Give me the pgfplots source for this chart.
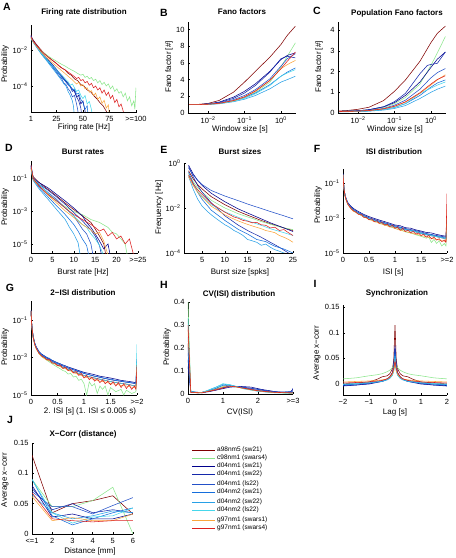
\documentclass[border=0pt]{standalone}
\usepackage{pgfplots}
\pgfplotsset{compat=1.18}
\usepackage{fontspec}
\setmainfont{Liberation Sans}
\definecolor{c1}{RGB}{128,0,0}
\definecolor{c2}{RGB}{140,230,140}
\definecolor{c3}{RGB}{0,0,140}
\definecolor{c4}{RGB}{20,40,170}
\definecolor{c5}{RGB}{35,80,200}
\definecolor{c6}{RGB}{20,110,220}
\definecolor{c7}{RGB}{40,160,230}
\definecolor{c8}{RGB}{70,215,235}
\definecolor{c9}{RGB}{250,165,60}
\definecolor{c10}{RGB}{220,30,30}
\pgfplotsset{
  base/.style={scale only axis, anchor=south west,
    axis x line*=bottom, axis y line*=left, tick align=inside,
    major tick length=2pt,
    every tick/.append style={black, line width=0.4pt},
    axis line style={line width=0.4pt,-},
    every outer x axis line/.append style={-},
    every outer y axis line/.append style={-},
    ticklabel style={font=\fontsize{7.5}{8}\selectfont},
    xticklabel style={yshift=-1pt},
    no markers, xminorticks=false, yminorticks=false,
    every axis plot/.append style={line width=0.55pt}},
}
\newcommand{\Ttl}[3]{\node[font=\bfseries\fontsize{8}{9}\selectfont] at (#1pt,558pt-#2pt) {#3};}
\newcommand{\Let}[3]{\node[font=\bfseries\fontsize{10.5}{11}\selectfont] at (#1pt,558pt-#2pt) {#3};}
\newcommand{\Xl}[3]{\node[font=\fontsize{8}{9}\selectfont] at (#1pt,558pt-#2pt) {#3};}
\newcommand{\Yl}[3]{\node[font=\fontsize{8}{9}\selectfont,rotate=90] at (#1pt,558pt-#2pt) {#3};}
\newcommand{\Lg}[2]{\node[font=\fontsize{6.5}{7}\selectfont,anchor=west,inner sep=0pt] at (217pt,558pt-#1pt) {#2};}
\begin{document}
\begin{tikzpicture}
\path[use as bounding box] (0pt,0pt) rectangle (456pt,558pt);
% ---------------- A
\begin{axis}[base, at={(31pt,446pt)}, width=106pt, height=87pt, ymode=log,
  xmin=1, xmax=101, ymin=3.6e-6, ymax=0.245,
  xtick={1,25,50,75,100}, xticklabels={1,25,50,75,>=100},
  ytick={1e-4,1e-2}, yticklabels={10\textsuperscript{−4},10\textsuperscript{−2}}]
\addplot[c1] coordinates {(1,0.07)(2,0.045)(4,0.03)(6,0.021)(8,0.015)(10,0.011)(12,0.008)(15,0.0055)(18,0.0038)(21,0.0027)(24,0.002)(27,0.0014)(30,0.001)(33,0.0008)(36,0.0005)(39,0.0004)(42,0.00025)(45,0.0002)(48,0.00012)(51,0.0001)(54,6e-5)(57,5e-5)(60,3e-5)(63,2e-5)(66,1.2e-5)(69,8e-6)(72,4e-6)(74,2e-6)};
\addplot[c2] coordinates {(1,0.06)(2,0.04)(4,0.026)(6,0.018)(8,0.013)(10,0.01)(12,0.0078)(15,0.0058)(18,0.0043)(21,0.0033)(24,0.0026)(27,0.002)(30,0.0016)(33,0.0013)(36,0.001)(39,0.0008)(42,0.00065)(45,0.0005)(48,0.0004)(50,0.00045)(52,0.0003)(54,0.00035)(56,0.00025)(58,0.0003)(60,0.0002)(62,0.00024)(64,0.00015)(66,0.0002)(68,0.00012)(70,0.00016)(72,0.0001)(74,0.00013)(76,7e-5)(78,0.0001)(80,5e-5)(82,7e-5)(84,4e-5)(86,5e-5)(88,2.5e-5)(90,4e-5)(92,1.5e-5)(94,2.5e-5)(96,8e-6)(98,1.5e-5)(99,5e-6)(100,8e-5)};
\addplot[c3] coordinates {(1,0.065)(2,0.042)(4,0.028)(6,0.019)(8,0.013)(10,0.009)(12,0.0065)(15,0.0042)(18,0.0026)(21,0.0016)(24,0.001)(27,0.0006)(30,0.00038)(33,0.00022)(36,0.00014)(39,8e-5)(42,5e-5)(44,2.5e-5)(46,3e-5)(48,1e-5)(50,1.5e-5)(52,4e-6)(53,2e-6)};
\addplot[c4] coordinates {(1,0.06)(2,0.04)(4,0.027)(6,0.018)(8,0.012)(10,0.0085)(12,0.006)(15,0.0038)(18,0.0023)(21,0.0014)(24,0.0009)(27,0.00055)(30,0.00033)(33,0.0002)(36,0.00012)(38,9e-5)(40,5e-5)(42,6e-5)(44,2.5e-5)(46,1.5e-5)(48,6e-6)(49,2e-6)};
\addplot[c5] coordinates {(1,0.055)(2,0.038)(4,0.025)(6,0.017)(8,0.011)(10,0.0078)(12,0.0055)(15,0.0034)(18,0.002)(21,0.0012)(24,0.0007)(27,0.0004)(30,0.00025)(32,0.00015)(34,0.00012)(36,7e-5)(38,5e-5)(40,2.5e-5)(42,3e-5)(44,1e-5)(45,5e-6)(46,2e-6)};
\addplot[c6] coordinates {(1,0.05)(2,0.036)(4,0.024)(6,0.016)(8,0.011)(10,0.0075)(12,0.0052)(15,0.0033)(18,0.002)(21,0.0013)(24,0.0008)(27,0.0005)(30,0.0003)(33,0.0002)(36,0.00012)(38,0.0001)(40,6e-5)(42,7e-5)(44,3.5e-5)(46,4e-5)(48,1.8e-5)(50,1.2e-5)(52,5e-6)(54,8e-6)(55,2e-6)};
\addplot[c7] coordinates {(1,0.045)(2,0.033)(4,0.022)(6,0.015)(8,0.01)(10,0.0068)(12,0.0047)(15,0.0029)(18,0.0017)(21,0.001)(24,0.0006)(27,0.00035)(30,0.0002)(32,0.00013)(34,0.0001)(36,5e-5)(38,3e-5)(40,1.5e-5)(41,8e-6)(42,2e-6)};
\addplot[c8] coordinates {(1,0.05)(2,0.035)(4,0.023)(6,0.016)(8,0.011)(10,0.0076)(12,0.0054)(15,0.0035)(18,0.0022)(21,0.0014)(24,0.0009)(27,0.0006)(30,0.0004)(33,0.00026)(36,0.00017)(38,0.00011)(40,0.00013)(42,8e-5)(44,5e-5)(46,6e-5)(48,3e-5)(50,2e-5)(52,3e-5)(54,1e-5)(56,1.4e-5)(58,5e-6)(59,2e-6)};
\addplot[c9] coordinates {(1,0.05)(2,0.036)(4,0.024)(6,0.017)(8,0.012)(10,0.0085)(12,0.0062)(15,0.0042)(18,0.0029)(21,0.002)(24,0.0014)(27,0.001)(30,0.0007)(33,0.0005)(36,0.00035)(39,0.00025)(42,0.00017)(44,0.00013)(46,0.00016)(48,0.0001)(50,0.00012)(52,7e-5)(54,8e-5)(56,4.5e-5)(58,5.5e-5)(60,3e-5)(62,4e-5)(64,1.8e-5)(66,2.5e-5)(68,1.1e-5)(70,1.6e-5)(72,6e-6)(74,9e-6)(75,2e-6)};
\addplot[c10] coordinates {(1,0.055)(2,0.04)(4,0.027)(6,0.019)(8,0.014)(10,0.01)(12,0.0075)(15,0.0052)(18,0.0037)(21,0.0027)(24,0.002)(27,0.0014)(30,0.001)(33,0.0008)(36,0.0006)(39,0.00045)(42,0.00033)(44,0.00026)(46,0.0003)(48,0.0002)(50,0.00023)(52,0.00015)(54,0.00018)(56,0.00011)(58,0.00014)(60,8e-5)(62,0.0001)(64,6e-5)(66,8e-5)(68,4e-5)(70,6e-5)(72,3e-5)(74,4.5e-5)(76,2e-5)(78,3e-5)(80,1.2e-5)(82,1.8e-5)(84,7e-6)(86,1e-5)(88,4e-6)(89,2e-6)};
\end{axis}
% ---------------- B
\begin{axis}[base, at={(188pt,445pt)}, width=108pt, height=91pt, xmode=log,
  xmin=0.0028, xmax=2.6, ymin=0, ymax=10.9,
  xticklabel style={yshift=1pt},
  xtick={0.01,0.1,1}, xticklabels={10\textsuperscript{−2},10\textsuperscript{−1},10\textsuperscript{0}},
  ytick={0,2,4,6,8,10}, yticklabels={0,2,4,6,8,10}]
\addplot[c1] coordinates {(0.003,1)(0.005,1.02)(0.01,1.15)(0.02,1.5)(0.05,2.5)(0.1,3.7)(0.2,5.0)(0.5,6.7)(1,8.2)(1.5,9.3)(2.5,10.4)};
\addplot[c2] coordinates {(0.003,1)(0.005,1)(0.01,1.05)(0.02,1.15)(0.05,1.45)(0.1,1.85)(0.2,2.5)(0.5,3.7)(1,5.5)(1.5,6.8)(2.5,8.4)};
\addplot[c3] coordinates {(0.003,1)(0.005,1)(0.01,1.1)(0.02,1.3)(0.05,1.9)(0.1,2.6)(0.2,3.5)(0.5,5.0)(1,6.4)(1.5,6.9)(2.5,7.2)};
\addplot[c4] coordinates {(0.003,1)(0.005,1)(0.01,1.08)(0.02,1.25)(0.05,1.75)(0.1,2.4)(0.2,3.3)(0.5,4.9)(1,6.5)(1.5,6.8)(2.5,6.6)};
\addplot[c5] coordinates {(0.003,1)(0.005,1)(0.01,1.07)(0.02,1.2)(0.05,1.6)(0.1,2.1)(0.2,2.8)(0.5,4.1)(1,5.6)(1.5,6.5)(2.5,7.1)};
\addplot[c6] coordinates {(0.003,1)(0.005,1)(0.01,1.05)(0.02,1.15)(0.05,1.45)(0.1,1.85)(0.2,2.4)(0.5,3.4)(1,4.4)(1.5,4.9)(2.5,5.4)};
\addplot[c7] coordinates {(0.003,1)(0.005,1)(0.01,1.03)(0.02,1.1)(0.05,1.35)(0.1,1.65)(0.2,2.1)(0.5,2.9)(1,3.7)(1.5,4.0)(2.5,4.4)};
\addplot[c8] coordinates {(0.003,1)(0.005,1)(0.01,1.04)(0.02,1.12)(0.05,1.4)(0.1,1.75)(0.2,2.3)(0.5,3.3)(1,4.4)(1.5,4.8)(2.5,5.2)};
\addplot[c9] coordinates {(0.003,1)(0.005,1)(0.01,1.05)(0.02,1.15)(0.05,1.45)(0.1,1.9)(0.2,2.6)(0.5,3.9)(1,5.3)(1.5,5.8)(2.5,6.3)};
\addplot[c10] coordinates {(0.003,1)(0.005,1)(0.01,1.05)(0.02,1.16)(0.05,1.5)(0.1,1.95)(0.2,2.65)(0.5,3.9)(1,5.3)(1.5,6.2)(2.5,7.3)};
\end{axis}
% ---------------- C
\begin{axis}[base, at={(338pt,445pt)}, width=108pt, height=91pt, xmode=log,
  xmin=0.0028, xmax=2.6, ymin=0, ymax=4.4,
  xticklabel style={yshift=1pt},
  xtick={0.01,0.1,1}, xticklabels={10\textsuperscript{−2},10\textsuperscript{−1},10\textsuperscript{0}},
  ytick={0,1,2,3,4}, yticklabels={0,1,2,3,4}]
\addplot[c1] coordinates {(0.003,0.1)(0.005,0.12)(0.01,0.18)(0.02,0.28)(0.05,0.6)(0.1,1.05)(0.2,1.6)(0.5,2.5)(1,3.4)(1.5,3.85)(2.5,4.2)};
\addplot[c2] coordinates {(0.003,0.08)(0.005,0.09)(0.01,0.11)(0.02,0.15)(0.05,0.27)(0.1,0.45)(0.2,0.75)(0.5,1.4)(1,2.3)(1.5,2.9)(2.5,3.7)};
\addplot[c3] coordinates {(0.003,0.08)(0.005,0.09)(0.01,0.11)(0.02,0.16)(0.05,0.3)(0.1,0.5)(0.2,0.85)(0.5,1.5)(1,2.2)(1.5,2.6)(2.5,2.95)};
\addplot[c4] coordinates {(0.003,0.08)(0.005,0.09)(0.01,0.11)(0.02,0.16)(0.05,0.3)(0.1,0.55)(0.2,0.95)(0.5,1.9)(0.8,2.3)(1,2.35)(1.5,2.4)(2.5,2.95)};
\addplot[c5] coordinates {(0.003,0.07)(0.005,0.08)(0.01,0.1)(0.02,0.13)(0.05,0.22)(0.1,0.38)(0.2,0.62)(0.5,1.15)(1,1.7)(1.5,1.95)(2.5,2.15)};
\addplot[c6] coordinates {(0.003,0.06)(0.005,0.07)(0.01,0.08)(0.02,0.1)(0.05,0.17)(0.1,0.27)(0.2,0.45)(0.5,0.85)(1,1.25)(1.5,1.45)(2.5,1.6)};
\addplot[c7] coordinates {(0.003,0.05)(0.005,0.06)(0.01,0.07)(0.02,0.09)(0.05,0.14)(0.1,0.22)(0.2,0.36)(0.5,0.7)(1,1.0)(1.5,1.15)(2.5,1.3)};
\addplot[c8] coordinates {(0.003,0.06)(0.005,0.07)(0.01,0.08)(0.02,0.1)(0.05,0.17)(0.1,0.27)(0.2,0.45)(0.5,0.95)(1,1.2)(1.5,1.35)(2.5,1.5)};
\addplot[c9] coordinates {(0.003,0.07)(0.005,0.08)(0.01,0.09)(0.02,0.12)(0.05,0.2)(0.1,0.32)(0.2,0.52)(0.5,0.95)(1,1.35)(1.5,1.6)(2.5,1.85)};
\addplot[c10] coordinates {(0.003,0.07)(0.005,0.08)(0.01,0.09)(0.02,0.12)(0.05,0.2)(0.1,0.33)(0.2,0.54)(0.5,0.98)(1,1.4)(1.5,1.62)(2.5,1.8)};
\end{axis}
% ---------------- D
\begin{axis}[base, at={(31pt,305pt)}, width=107pt, height=92pt, ymode=log,
  xmin=0, xmax=25, ymin=2.8e-6, ymax=1.07,
  xtick={0,5,10,15,20,25}, xticklabels={0,5,10,15,20,>=25},
  ytick={1e-5,1e-3,1e-1}, yticklabels={10\textsuperscript{−5},10\textsuperscript{−3},10\textsuperscript{−1}}]
\addplot[c1] coordinates {(0,0.4)(0.5,0.12)(2,0.05)(4,0.02)(6,0.008)(8,0.003)(10,0.0012)(12,0.0005)(14,0.0002)(15,8e-5)(16,3e-5)(17,1e-5)(17.5,2e-6)};
\addplot[c2] coordinates {(0,0.3)(0.5,0.08)(2,0.03)(4,0.01)(6,0.004)(8,0.0018)(10,0.0009)(12,0.0006)(14,0.0003)(16,0.0002)(18,0.0001)(19,5e-5)(20,4e-5)(21,2e-5)(22,1e-5)(22.5,2e-6)};
\addplot[c3] coordinates {(0,0.5)(0.5,0.1)(2,0.05)(4,0.025)(6,0.01)(8,0.004)(10,0.0015)(12,0.0005)(13,0.0002)(14,0.0001)(15,4e-5)(16,1.5e-5)(17,5e-6)(18,1e-5)(18.5,2e-6)};
\addplot[c4] coordinates {(0,0.6)(0.5,0.1)(2,0.04)(4,0.018)(6,0.007)(8,0.0025)(10,0.0008)(12,0.00025)(14,7e-5)(15,3e-5)(16,8e-6)(16.5,2e-6)};
\addplot[c5] coordinates {(0,0.5)(0.5,0.09)(2,0.035)(4,0.013)(6,0.005)(8,0.0015)(10,0.0005)(11,0.0002)(12,8e-5)(13,4e-5)(14,1e-5)(14.5,2e-6)};
\addplot[c6] coordinates {(0,0.4)(0.5,0.08)(2,0.025)(4,0.007)(6,0.002)(8,0.0006)(10,0.00015)(11,6e-5)(12,2e-5)(13,8e-6)(13.5,2e-6)};
\addplot[c7] coordinates {(0,0.4)(0.5,0.07)(2,0.02)(4,0.005)(6,0.0012)(8,0.0003)(9,0.0001)(10,4e-5)(11,1.2e-5)(11.5,2e-6)};
\addplot[c8] coordinates {(0,0.5)(0.5,0.1)(2,0.04)(4,0.012)(6,0.004)(8,0.0015)(10,0.0005)(12,0.00015)(13,0.0001)(14,4e-5)(15,2e-5)(16,8e-6)(17,2e-6)};
\addplot[c9] coordinates {(0,0.4)(0.5,0.08)(2,0.03)(4,0.009)(6,0.003)(8,0.001)(10,0.0004)(12,0.00015)(14,7e-5)(15,4e-5)(16,5e-5)(17,1.5e-5)(18,2e-6)};
\addplot[c10] coordinates {(0,0.6)(0.5,0.1)(2,0.03)(4,0.01)(6,0.004)(8,0.0015)(10,0.0006)(12,0.0003)(14,0.00015)(15,0.0001)(16,6e-5)(17,8e-5)(18,3e-5)(19,5e-5)(20,2e-5)(21,3e-5)(22,1e-5)(23,2e-5)(24,2e-6)};
\end{axis}
% ---------------- E
\begin{axis}[base, at={(184pt,305pt)}, width=109pt, height=90pt, ymode=log,
  xmin=1, xmax=25, ymin=1e-4, ymax=1,
  xtick={5,10,15,20,25}, xticklabels={5,10,15,20,25},
  ytick={1e-4,1e-2,1}, yticklabels={10\textsuperscript{−4},10\textsuperscript{−2},10\textsuperscript{0}}]
\addplot[c1] coordinates {(2,0.45)(3,0.2)(4,0.11)(5,0.07)(7,0.032)(10,0.014)(13,0.007)(15,0.0048)(18,0.0028)(20,0.002)(23,0.0013)(25,0.001)};
\addplot[c2] coordinates {(2,0.35)(3,0.15)(4,0.08)(5,0.05)(7,0.022)(10,0.01)(13,0.0055)(15,0.004)(18,0.0025)(20,0.0019)(23,0.0013)(25,0.0011)};
\addplot[c3] coordinates {(2,0.8)(3,0.33)(4,0.17)(5,0.1)(7,0.045)(10,0.019)(13,0.009)(15,0.006)(18,0.0033)(20,0.0022)(23,0.0013)(25,0.0009)};
\addplot[c4] coordinates {(2,0.7)(3,0.25)(4,0.1)(5,0.05)(7,0.017)(10,0.0045)(13,0.0017)(15,0.001)(18,0.0005)(20,0.0003)(22,0.00018)(24,0.0001)(25,0.00008)};
\addplot[c5] coordinates {(2,0.6)(3,0.3)(4,0.17)(5,0.11)(7,0.06)(10,0.034)(13,0.021)(15,0.015)(18,0.0095)(20,0.007)(23,0.0045)(25,0.0033)};
\addplot[c6] coordinates {(2,0.4)(3,0.13)(4,0.05)(5,0.024)(7,0.008)(10,0.0028)(13,0.0011)(15,0.0007)(17,0.0004)(19,0.00032)(20,0.00025)(21,0.0002)(23,0.00015)(25,0.0001)};
\addplot[c7] coordinates {(2,0.25)(3,0.07)(4,0.025)(5,0.012)(6,0.0075)(7,0.005)(8,0.0035)(9,0.0025)(10,0.0018)(11,0.0014)(12,0.001)(13,0.0008)(14,0.0006)(15,0.0004)(16,0.00035)(17,0.0003)(18,0.00022)(19,0.00025)(20,0.00018)(21,0.00014)(22,0.00012)(23,0.0001)(24,0.00009)};
\addplot[c8] coordinates {(2,0.28)(3,0.11)(4,0.055)(5,0.033)(7,0.014)(10,0.0068)(13,0.0038)(15,0.0027)(18,0.0017)(20,0.0012)(23,0.0008)(25,0.0006)};
\addplot[c9] coordinates {(2,0.25)(3,0.1)(4,0.05)(5,0.03)(7,0.012)(10,0.005)(12,0.0032)(14,0.0022)(16,0.0016)(18,0.0012)(19,0.001)(20,0.0009)(21,0.0008)(22,0.0006)(23,0.0005)(24,0.0004)(25,0.0003)};
\addplot[c10] coordinates {(2,0.3)(3,0.12)(4,0.065)(5,0.04)(7,0.016)(10,0.0065)(12,0.004)(13,0.0035)(14,0.0028)(15,0.0026)(16,0.0022)(17,0.0023)(18,0.0018)(19,0.0017)(20,0.0013)(21,0.0014)(22,0.001)(23,0.0011)(24,0.0008)(25,0.0006)};
\end{axis}
% ---------------- F
\begin{axis}[base, at={(343pt,305pt)}, width=104pt, height=84pt, ymode=log,
  xmin=0, xmax=2, ymin=1e-5, ymax=0.63,
  xtick={0,0.5,1,1.5,2}, xticklabels={0,0.5,1,1.5,>=2},
  ytick={1e-5,1e-3,1e-1}, yticklabels={10\textsuperscript{−5},10\textsuperscript{−3},10\textsuperscript{−1}}]
\addplot[c1] coordinates {(0,0.3)(0.01,0.1)(0.02,0.045)(0.04,0.018)(0.07,0.009)(0.1,0.0058)(0.15,0.0036)(0.2,0.0026)(0.3,0.0017)(0.4,0.0012)(0.5,0.0009)(0.6,0.0007)(0.7,0.00056)(0.8,0.00046)(0.9,0.00037)(1,0.0003)(1.2,0.00021)(1.4,0.00016)(1.5,0.00013)(1.6,0.00011)(1.8,8.5e-5)(1.98,6.5e-5)(2,0.001)};
\addplot[c2] coordinates {(0,0.3)(0.01,0.1)(0.02,0.045)(0.04,0.018)(0.07,0.009)(0.1,0.0058)(0.15,0.0036)(0.2,0.0026)(0.3,0.0017)(0.4,0.0012)(0.5,0.0009)(0.6,0.0007)(0.7,0.00052)(0.8,0.0004)(0.9,0.00033)(1,0.00025)(1.1,0.00022)(1.2,0.00016)(1.3,0.00014)(1.4,0.00011)(1.5,9e-5)(1.6,7e-5)(1.65,8e-5)(1.7,4e-5)(1.75,6e-5)(1.8,3.5e-5)(1.85,5e-5)(1.9,2.5e-5)(1.95,3.5e-5)(1.98,2.5e-5)(2,0.0005)};
\addplot[c3] coordinates {(0,0.35)(0.01,0.12)(0.02,0.05)(0.04,0.02)(0.07,0.011)(0.1,0.007)(0.15,0.0048)(0.2,0.0035)(0.3,0.0023)(0.4,0.0016)(0.5,0.0012)(0.6,0.00095)(0.7,0.00076)(0.8,0.00062)(0.9,0.0005)(1,0.0004)(1.1,0.00036)(1.2,0.00028)(1.3,0.00026)(1.4,0.00021)(1.5,0.00018)(1.6,0.00015)(1.7,0.00014)(1.8,0.000115)(1.9,0.0001)(1.98,9e-5)(2,0.0008)};
\addplot[c4] coordinates {(0,0.33)(0.01,0.11)(0.02,0.048)(0.04,0.019)(0.07,0.01)(0.1,0.0065)(0.15,0.0043)(0.2,0.0031)(0.3,0.002)(0.4,0.0014)(0.5,0.00105)(0.6,0.00083)(0.7,0.00066)(0.8,0.00054)(0.9,0.00044)(1,0.00036)(1.2,0.00025)(1.4,0.00019)(1.5,0.00016)(1.6,0.00013)(1.8,0.0001)(1.98,8e-5)(2,0.0006)};
\addplot[c6] coordinates {(0,0.3)(0.01,0.1)(0.02,0.046)(0.04,0.019)(0.07,0.0095)(0.1,0.0062)(0.15,0.004)(0.2,0.0029)(0.25,0.0024)(0.3,0.0019)(0.35,0.0017)(0.4,0.0013)(0.45,0.0012)(0.5,0.00098)(0.55,0.0009)(0.6,0.00076)(0.65,0.0007)(0.7,0.0006)(0.75,0.00058)(0.8,0.00049)(0.85,0.00046)(0.9,0.0004)(0.95,0.00038)(1,0.00032)(1.1,0.00028)(1.2,0.00023)(1.3,0.0002)(1.4,0.00017)(1.5,0.00014)(1.6,0.00012)(1.7,0.00011)(1.8,9e-5)(1.9,8e-5)(1.98,7e-5)(2,0.0007)};
\addplot[c7] coordinates {(0,0.3)(0.01,0.1)(0.02,0.046)(0.04,0.019)(0.07,0.0093)(0.1,0.006)(0.15,0.0038)(0.2,0.0028)(0.3,0.0018)(0.4,0.00125)(0.5,0.00094)(0.6,0.00073)(0.7,0.00058)(0.8,0.00048)(0.9,0.00039)(1,0.00032)(1.2,0.00022)(1.4,0.00017)(1.5,0.00014)(1.6,0.00012)(1.8,9e-5)(1.98,7e-5)(2,0.0005)};
\addplot[c8] coordinates {(0,0.3)(0.01,0.1)(0.02,0.045)(0.04,0.018)(0.07,0.009)(0.1,0.0058)(0.15,0.0037)(0.2,0.0027)(0.3,0.0017)(0.4,0.0012)(0.5,0.0009)(0.6,0.0007)(0.7,0.00056)(0.8,0.00046)(0.9,0.00037)(1,0.0003)(1.2,0.00021)(1.4,0.00016)(1.5,0.00013)(1.6,0.00011)(1.8,8.5e-5)(1.98,6.5e-5)(2,0.0004)};
\addplot[c9] coordinates {(0,0.28)(0.01,0.09)(0.02,0.042)(0.04,0.017)(0.07,0.0085)(0.1,0.0054)(0.15,0.0034)(0.2,0.0024)(0.25,0.0021)(0.3,0.0016)(0.35,0.0015)(0.4,0.0011)(0.45,0.001)(0.5,0.0008)(0.55,0.00075)(0.6,0.0006)(0.65,0.00058)(0.7,0.00048)(0.75,0.00045)(0.8,0.00038)(0.85,0.00036)(0.9,0.0003)(0.95,0.0003)(1,0.00025)(1.1,0.0002)(1.2,0.00017)(1.3,0.00014)(1.4,0.00012)(1.5,0.0001)(1.6,8.5e-5)(1.7,7e-5)(1.8,6e-5)(1.9,5e-5)(1.98,4.5e-5)(2,0.003)};
\addplot[c10] coordinates {(0,0.3)(0.01,0.1)(0.02,0.045)(0.04,0.018)(0.07,0.009)(0.1,0.0058)(0.15,0.0036)(0.2,0.0026)(0.25,0.0022)(0.3,0.0016)(0.35,0.0016)(0.4,0.0011)(0.45,0.0011)(0.5,0.0008)(0.55,0.0009)(0.6,0.00062)(0.65,0.0007)(0.7,0.0005)(0.75,0.00056)(0.8,0.0004)(0.85,0.00045)(0.9,0.00032)(0.95,0.00038)(1,0.00026)(1.05,0.0003)(1.1,0.0002)(1.15,0.00026)(1.2,0.00017)(1.25,0.0002)(1.3,0.00014)(1.35,0.00017)(1.4,0.00012)(1.45,0.00014)(1.5,0.0001)(1.55,0.00012)(1.6,8e-5)(1.65,0.0001)(1.7,6.5e-5)(1.75,8e-5)(1.8,5.5e-5)(1.85,6.5e-5)(1.9,4.5e-5)(1.95,5.5e-5)(1.98,4e-5)(2,0.025)};
\end{axis}
% ---------------- G
\begin{axis}[base, at={(31pt,163pt)}, width=106pt, height=94pt, ymode=log,
  xmin=0, xmax=2, ymin=1e-5, ymax=1,
  xtick={0,0.5,1,1.5,2}, xticklabels={0,0.5,1,1.5,>=2},
  ytick={1e-5,1e-3,1e-1}, yticklabels={10\textsuperscript{−5},10\textsuperscript{−3},10\textsuperscript{−1}}]
\addplot[c1] coordinates {(0,0.3)(0.01,0.08)(0.02,0.035)(0.04,0.012)(0.07,0.005)(0.1,0.003)(0.15,0.0017)(0.2,0.0012)(0.3,0.0008)(0.4,0.00055)(0.5,0.0004)(0.6,0.0003)(0.7,0.00023)(0.8,0.00018)(0.9,0.00014)(1,0.00011)(1.2,8e-5)(1.4,6e-5)(1.5,5.2e-5)(1.6,4.6e-5)(1.8,3.8e-5)(1.98,3e-5)(2,0.0005)};
\addplot[c2] coordinates {(0,0.3)(0.01,0.08)(0.02,0.035)(0.04,0.012)(0.07,0.005)(0.1,0.003)(0.15,0.0016)(0.2,0.0011)(0.3,0.0007)(0.4,0.00045)(0.5,0.0003)(0.55,0.00025)(0.6,0.0002)(0.65,0.00018)(0.7,0.00013)(0.75,0.00014)(0.8,9e-5)(0.85,0.0001)(0.9,6e-5)(0.95,7e-5)(1,4e-5)(1.05,1e-5)(1.1,5e-5)(1.15,3e-5)(1.2,4e-5)(1.25,1.2e-5)(1.3,3e-5)(1.35,2e-5)(1.4,3e-5)(1.45,1e-5)(1.5,2.5e-5)(1.6,1.5e-5)(1.7,2e-5)(1.75,1e-5)(1.8,1.8e-5)(1.9,1.2e-5)(1.98,1.5e-5)(2,0.0004)};
\addplot[c3] coordinates {(0,0.32)(0.01,0.09)(0.02,0.04)(0.04,0.014)(0.07,0.006)(0.1,0.0036)(0.15,0.0021)(0.2,0.0015)(0.3,0.001)(0.4,0.0007)(0.5,0.00052)(0.6,0.0004)(0.7,0.00031)(0.8,0.00025)(0.9,0.0002)(1,0.00016)(1.1,0.00014)(1.2,0.00012)(1.3,0.0001)(1.4,9e-5)(1.5,8e-5)(1.6,7e-5)(1.7,6e-5)(1.8,5.5e-5)(1.9,5e-5)(1.98,4.5e-5)(2,0.0008)};
\addplot[c4] coordinates {(0,0.3)(0.01,0.085)(0.02,0.038)(0.04,0.013)(0.07,0.0055)(0.1,0.0033)(0.15,0.0019)(0.2,0.0013)(0.3,0.0009)(0.4,0.00062)(0.5,0.00046)(0.6,0.00035)(0.7,0.00027)(0.8,0.00022)(0.9,0.00017)(1,0.00014)(1.2,0.0001)(1.4,7.5e-5)(1.5,6.5e-5)(1.6,5.8e-5)(1.8,4.8e-5)(1.98,4e-5)(2,0.0006)};
\addplot[c6] coordinates {(0,0.3)(0.01,0.085)(0.02,0.038)(0.04,0.013)(0.07,0.0056)(0.1,0.0034)(0.15,0.002)(0.2,0.0014)(0.25,0.0012)(0.3,0.00095)(0.35,0.0009)(0.4,0.00066)(0.45,0.0006)(0.5,0.00048)(0.55,0.00046)(0.6,0.00036)(0.65,0.00035)(0.7,0.00028)(0.75,0.00027)(0.8,0.00022)(0.85,0.00021)(0.9,0.00018)(0.95,0.00017)(1,0.00014)(1.1,0.00012)(1.2,0.0001)(1.3,9e-5)(1.4,7.5e-5)(1.5,7e-5)(1.6,6e-5)(1.7,5.5e-5)(1.8,4.8e-5)(1.9,4.5e-5)(1.98,4e-5)(2,0.0006)};
\addplot[c8] coordinates {(0,0.3)(0.01,0.08)(0.02,0.035)(0.04,0.012)(0.07,0.005)(0.1,0.003)(0.15,0.0017)(0.2,0.0012)(0.3,0.0008)(0.4,0.00055)(0.5,0.0004)(0.6,0.0003)(0.7,0.00023)(0.8,0.00018)(0.9,0.00014)(1,0.00011)(1.2,8e-5)(1.4,6e-5)(1.5,5.2e-5)(1.6,4.6e-5)(1.8,3.8e-5)(1.98,3e-5)(2,0.005)};
\addplot[c9] coordinates {(0,0.28)(0.01,0.075)(0.02,0.033)(0.04,0.011)(0.07,0.0047)(0.1,0.0028)(0.15,0.0016)(0.2,0.0011)(0.25,0.0009)(0.3,0.00072)(0.35,0.00065)(0.4,0.0005)(0.45,0.00045)(0.5,0.00036)(0.55,0.00033)(0.6,0.00026)(0.65,0.00025)(0.7,0.0002)(0.75,0.00019)(0.8,0.00015)(0.85,0.00014)(0.9,0.00012)(0.95,0.00011)(1,9e-5)(1.1,8e-5)(1.2,6.5e-5)(1.3,5.5e-5)(1.4,5e-5)(1.5,4e-5)(1.6,3.8e-5)(1.7,3.2e-5)(1.8,3e-5)(1.9,2.6e-5)(1.98,2.5e-5)(2,0.0004)};
\addplot[c10] coordinates {(0,0.3)(0.01,0.08)(0.02,0.035)(0.04,0.012)(0.07,0.005)(0.1,0.003)(0.15,0.0017)(0.2,0.0012)(0.25,0.001)(0.3,0.00075)(0.35,0.00075)(0.4,0.0005)(0.45,0.0005)(0.5,0.00036)(0.55,0.0004)(0.6,0.00026)(0.65,0.0003)(0.7,0.0002)(0.75,0.00023)(0.8,0.00015)(0.85,0.00018)(0.9,0.00011)(0.95,0.00014)(1,8e-5)(1.05,0.00011)(1.1,6.5e-5)(1.15,9e-5)(1.2,5.5e-5)(1.25,7.5e-5)(1.3,4.5e-5)(1.35,6.5e-5)(1.4,4e-5)(1.45,5.5e-5)(1.5,3.5e-5)(1.55,5e-5)(1.6,3e-5)(1.65,4.5e-5)(1.7,2.5e-5)(1.75,4e-5)(1.8,2.2e-5)(1.85,3.5e-5)(1.9,2e-5)(1.95,3e-5)(1.98,2e-5)(2,0.0003)};
\end{axis}
% ---------------- H
\begin{axis}[base, at={(188pt,164pt)}, width=105pt, height=92pt,
  xmin=0, xmax=3, ymin=0, ymax=0.4,
  xtick={0,1,2,3}, xticklabels={0,1,2,>=3},
  ytick={0,0.1,0.2,0.3,0.4}, yticklabels={0,0.1,0.2,0.3,0.4}]
\addplot[c1] coordinates {(0,0.22)(0.08,0.008)(0.4,0.006)(0.8,0.02)(1.2,0.035)(1.5,0.03)(2,0.015)(2.5,0.007)(3,0.006)};
\addplot[c2] coordinates {(0,0.4)(0.08,0.01)(0.3,0.005)(0.6,0.012)(0.9,0.03)(1.1,0.035)(1.4,0.03)(1.8,0.018)(2.2,0.01)(2.6,0.005)(2.95,0.003)(3,0.005)};
\addplot[c3] coordinates {(0,0.15)(0.08,0.01)(0.3,0.006)(0.6,0.01)(0.9,0.02)(1.2,0.03)(1.5,0.033)(1.8,0.03)(2.1,0.02)(2.5,0.01)(2.9,0.006)(3,0.02)};
\addplot[c4] coordinates {(0,0.12)(0.08,0.008)(0.3,0.005)(0.6,0.012)(0.9,0.025)(1.2,0.035)(1.5,0.03)(1.8,0.025)(2.2,0.015)(2.6,0.008)(2.95,0.005)(3,0.025)};
\addplot[c5] coordinates {(0,0.18)(0.08,0.01)(0.4,0.005)(0.8,0.018)(1.1,0.03)(1.4,0.032)(1.8,0.025)(2.2,0.015)(2.6,0.008)(3,0.012)};
\addplot[c6] coordinates {(0,0.2)(0.08,0.01)(0.4,0.006)(0.8,0.025)(1.0,0.038)(1.3,0.035)(1.7,0.022)(2.2,0.01)(2.6,0.006)(3,0.008)};
\addplot[c7] coordinates {(0,0.25)(0.08,0.008)(0.4,0.006)(0.8,0.03)(1.0,0.042)(1.2,0.04)(1.6,0.025)(2,0.012)(2.5,0.006)(3,0.005)};
\addplot[c8] coordinates {(0,0.33)(0.08,0.01)(0.4,0.006)(0.8,0.03)(1.0,0.045)(1.2,0.04)(1.6,0.022)(2,0.012)(2.5,0.005)(3,0.004)};
\addplot[c9] coordinates {(0,0.28)(0.08,0.007)(0.4,0.006)(0.8,0.02)(1.1,0.035)(1.4,0.03)(1.8,0.018)(2.3,0.008)(3,0.004)};
\addplot[c10] coordinates {(0,0.3)(0.08,0.006)(0.4,0.005)(0.8,0.018)(1.1,0.03)(1.3,0.033)(1.6,0.025)(2,0.014)(2.5,0.007)(3,0.005)};
\end{axis}
% ---------------- I
\begin{axis}[base, at={(343pt,163pt)}, width=104pt, height=90pt,
  xmin=-2, xmax=2, ymin=-0.0214, ymax=0.154,
  xtick={-2,-1,0,1,2}, xticklabels={−2,−1,0,1,2},
  ytick={0,0.05,0.1,0.15}, yticklabels={0,0.05,0.1,0.15}]
\addplot[c1] coordinates {(-2,0)(-1.5,0.002)(-1,0.004)(-0.7,0.009)(-0.5,0.014)(-0.3,0.016)(-0.2,0.02)(-0.1,0.03)(-0.05,0.045)(0,0.115)(0.05,0.045)(0.1,0.03)(0.2,0.02)(0.3,0.016)(0.5,0.014)(0.7,0.009)(1,0.004)(1.5,0.002)(2,0)};
\addplot[c2] coordinates {(-2,0.01)(-1.5,0.012)(-1,0.016)(-0.7,0.018)(-0.5,0.02)(-0.3,0.024)(-0.2,0.027)(-0.1,0.032)(-0.05,0.037)(0,0.045)(0.05,0.037)(0.1,0.032)(0.2,0.027)(0.3,0.024)(0.5,0.02)(0.7,0.018)(1,0.016)(1.5,0.012)(2,0.01)};
\addplot[c3] coordinates {(-2,-0.003)(-1.5,-0.002)(-1,0)(-0.5,0.005)(-0.3,0.009)(-0.2,0.013)(-0.1,0.022)(-0.05,0.035)(0,0.075)(0.05,0.035)(0.1,0.022)(0.2,0.013)(0.3,0.009)(0.5,0.005)(1,0)(1.5,-0.002)(2,-0.003)};
\addplot[c4] coordinates {(-2,-0.004)(-1.5,-0.002)(-1,0.001)(-0.5,0.006)(-0.3,0.01)(-0.2,0.014)(-0.1,0.022)(-0.05,0.033)(0,0.07)(0.05,0.033)(0.1,0.022)(0.2,0.014)(0.3,0.01)(0.5,0.006)(1,0.001)(1.5,-0.002)(2,-0.004)};
\addplot[c5] coordinates {(-2,-0.002)(-1.5,0)(-1,0.002)(-0.5,0.006)(-0.3,0.01)(-0.2,0.013)(-0.1,0.02)(-0.05,0.03)(0,0.065)(0.05,0.03)(0.1,0.02)(0.2,0.013)(0.3,0.01)(0.5,0.006)(1,0.002)(1.5,0)(2,-0.002)};
\addplot[c6] coordinates {(-2,-0.002)(-1.5,0)(-1,0.002)(-0.5,0.005)(-0.3,0.009)(-0.2,0.012)(-0.1,0.019)(-0.05,0.028)(0,0.06)(0.05,0.028)(0.1,0.019)(0.2,0.012)(0.3,0.009)(0.5,0.005)(1,0.002)(1.5,0)(2,-0.002)};
\addplot[c7] coordinates {(-2,-0.001)(-1.5,0)(-1,0.002)(-0.5,0.005)(-0.3,0.008)(-0.2,0.011)(-0.1,0.017)(-0.05,0.026)(0,0.055)(0.05,0.026)(0.1,0.017)(0.2,0.011)(0.3,0.008)(0.5,0.005)(1,0.002)(1.5,0)(2,-0.001)};
\addplot[c8] coordinates {(-2,0)(-1.5,0.001)(-1,0.003)(-0.5,0.006)(-0.3,0.009)(-0.2,0.012)(-0.1,0.017)(-0.05,0.025)(0,0.05)(0.05,0.025)(0.1,0.017)(0.2,0.012)(0.3,0.009)(0.5,0.006)(1,0.003)(1.5,0.001)(2,0)};
\addplot[c9] coordinates {(-2,0.004)(-1.5,0.005)(-1,0.006)(-0.5,0.008)(-0.3,0.01)(-0.2,0.013)(-0.1,0.019)(-0.05,0.026)(0,0.04)(0.05,0.026)(0.1,0.019)(0.2,0.013)(0.3,0.01)(0.5,0.008)(1,0.006)(1.5,0.005)(2,0.004)};
\addplot[c10] coordinates {(-2,0.002)(-1.5,0.003)(-1,0.004)(-0.5,0.007)(-0.3,0.01)(-0.2,0.014)(-0.1,0.022)(-0.05,0.03)(0,0.045)(0.05,0.03)(0.1,0.022)(0.2,0.014)(0.3,0.01)(0.5,0.007)(1,0.004)(1.5,0.003)(2,0.002)};
\end{axis}
% ---------------- J
\begin{axis}[base, at={(32pt,24pt)}, width=101pt, height=91pt,
  xmin=1, xmax=6, ymin=0, ymax=0.15,
  xtick={1,2,3,4,5,6}, xticklabels={<=1,2,3,4,5,6},
  ytick={0,0.05,0.1,0.15}, yticklabels={0,0.05,0.1,0.15}]
\addplot[c1] coordinates {(1,0.13)(2,0.035)(3,0.05)(4,0.055)(5,0.063)(6,0.033)};
\addplot[c2] coordinates {(1,0.09)(2,0.045)(3,0.045)(4,0.055)(5,0.077)(6,0.0)};
\addplot[c3] coordinates {(1,0.08)(2,0.028)(3,0.033)(4,0.025)(5,0.025)(6,0.033)};
\addplot[c4] coordinates {(1,0.075)(2,0.04)(3,0.05)(4,0.035)(5,0.04)(6,0.035)};
\addplot[c5] coordinates {(1,0.07)(2,0.045)(3,0.045)(4,0.033)(5,0.047)(6,0.06)};
\addplot[c6] coordinates {(1,0.09)(2,0.03)(3,0.015)(4,0.025)(5,0.035)(6,0.043)};
\addplot[c7] coordinates {(1,0.065)(2,0.035)(3,0.025)(4,0.03)(5,0.038)(6,0.035)};
\addplot[c8] coordinates {(1,0.09)(2,0.035)(3,0.018)(4,0.028)(5,0.03)(6,0.043)};
\addplot[c9] coordinates {(1,0.062)(2,0.022)(3,0.027)(4,0.022)(5,0.022)(6,0.033)};
\addplot[c10] coordinates {(1,0.068)(2,0.025)(3,0.022)(4,0.02)(5,0.022)(6,0.022)};
\end{axis}
% ---------------- legend (hidden axis, y = pixel row)
\begin{axis}[scale only axis, anchor=south west, at={(192pt,24pt)}, width=23pt, height=90pt,
  hide axis, xmin=0, xmax=1, ymin=444, ymax=534, y dir=reverse, clip=false,
  every axis plot/.append style={line width=0.7pt}, no markers]
\addplot[c1] coordinates {(0,450)(1,450)};
\addplot[c2] coordinates {(0,458)(1,458)};
\addplot[c3] coordinates {(0,466)(1,466)};
\addplot[c4] coordinates {(0,474)(1,474)};
\addplot[c5] coordinates {(0,484)(1,484)};
\addplot[c6] coordinates {(0,492)(1,492)};
\addplot[c7] coordinates {(0,502)(1,502)};
\addplot[c8] coordinates {(0,510)(1,510)};
\addplot[c9] coordinates {(0,520)(1,520)};
\addplot[c10] coordinates {(0,528)(1,528)};
\end{axis}
\Lg{450}{a98nm5 (sw21)}
\Lg{458}{c98nm1 (swars4)}
\Lg{466}{d04nm1 (sw21)}
\Lg{474}{d04nm1 (sw22)}
\Lg{484}{d04nm1 (ls22)}
\Lg{492}{d04nm2 (sw21)}
\Lg{502}{d04nm2 (sw22)}
\Lg{510}{d04nm2 (ls22)}
\Lg{520}{g97nm1 (swars1)}
\Lg{528}{g97nm1 (swars4)}
% ---------------- titles, letters, labels
\Ttl{84}{12}{Firing rate distribution}
\Ttl{242}{12}{Fano factors}
\Ttl{397}{13}{Population Fano factors}
\Ttl{83}{152}{Burst rates}
\Ttl{240}{152}{Burst sizes}
\Ttl{394}{152}{ISI distribution}
\Ttl{83}{293}{2−ISI distribution}
\Ttl{239}{294}{CV(ISI) distribution}
\Ttl{397}{293}{Synchronization}
\Ttl{83}{434}{X−Corr (distance)}
\Let{7}{7}{A}\Let{164}{13}{B}\Let{317}{11}{C}
\Let{9}{148}{D}\Let{164}{150}{E}\Let{317}{149}{F}
\Let{10}{288}{G}\Let{164}{285}{H}\Let{315}{284}{I}
\Let{10}{420}{J}
\Xl{84}{127}{Firing rate [Hz]}
\Xl{240}{129}{Window size [s]}
\Xl{395}{129}{Window size [s]}
\Xl{83}{272}{Burst rate [Hz]}
\Xl{240}{272}{Burst size [spks]}
\Xl{393}{272}{ISI [s]}
\Xl{90}{411}{2. ISI [s] (1. ISI ≤ 0.005 s)}
\Xl{240}{412}{CV(ISI)}
\Xl{395}{412}{Lag [s]}
\Xl{90}{551}{Distance [mm]}
\Yl{5}{64}{Probability}
\Yl{169}{67}{Fano factor [\#]}
\Yl{319}{67}{Fano factor [\#]}
\Yl{5}{207}{Probability}
\Yl{159}{207}{Frequency [Hz]}
\Yl{318}{205}{Probability}
\Yl{5}{347}{Probability}
\Yl{167}{347}{Probability}
\Yl{317}{353}{Average x−corr}
\Yl{5}{480}{Average x−corr}
\end{tikzpicture}
\end{document}
